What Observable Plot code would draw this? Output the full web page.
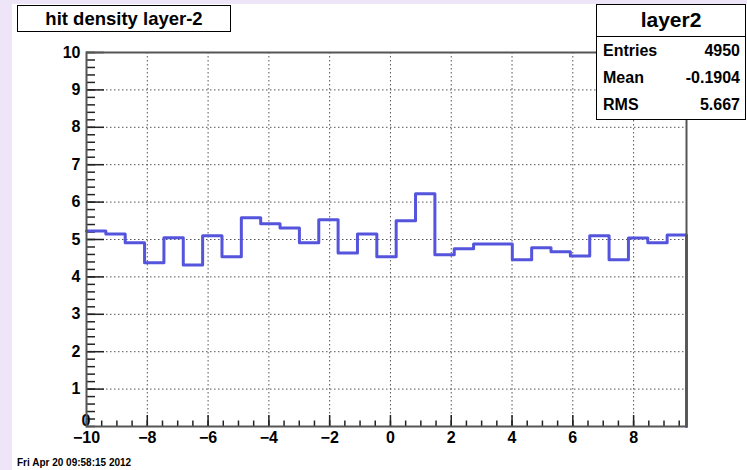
<!DOCTYPE html>
<html>
<head>
<meta charset="utf-8">
<script src="https://cdn.jsdelivr.net/npm/d3@7"></script>
<script src="https://cdn.jsdelivr.net/npm/@observablehq/plot@0.6"></script>
<style>
  html, body { margin: 0; padding: 0; }
  body { width: 747px; height: 470px; background: #efe5f9; overflow: hidden; font-family: "Liberation Sans", Arial, sans-serif; }
  #wrap { position: relative; width: 747px; height: 470px; }
  #chart { position: absolute; left: 12px; top: 4px; width: 735px; height: 466px; background: white; }
  #chart svg { display: block; }
  .box { position: absolute; background: white; border: 1px solid #000; box-sizing: border-box; font-weight: bold; color: #000; }
  #title { left: 17px; top: 5px; width: 214px; height: 27px; font-size: 18.5px; line-height: 25px; text-align: center; white-space: nowrap; }
  #stats { left: 596px; top: 4px; width: 150px; height: 116px; }
  #stats .hdr { height: 31px; border-bottom: 1px solid #000; font-size: 21px; line-height: 30px; text-align: center; }
  #stats .row { height: 27px; line-height: 28px; font-size: 16px; padding: 0 5px 0 6px; display: flex; justify-content: space-between; }
  #date { position: absolute; left: 17px; top: 457px; font-size: 10px; font-weight: bold; color: #000; white-space: nowrap; }
</style>
</head>
<body>
<div id="wrap">
  <div id="chart"></div>
  <div id="title" class="box"></div>
  <div id="stats" class="box"></div>
  <div id="date"></div>
</div>
<script>
// ---- data ----
const titleText = "hit density layer-2";
const histName = "layer2";
const statLabels = ["Entries", "Mean", "RMS"];
const statValues = ["4950", "-0.1904", "5.667"];
const dateText = "Fri Apr 20 09:58:15 2012";

const xMin = -10;
const xMax = 9.74;
const binContents = [5.23, 5.15, 4.91, 4.38, 5.05, 4.32, 5.10, 4.54, 5.58, 5.42,
                     5.31, 4.91, 5.53, 4.64, 5.15, 4.54, 5.50, 6.22, 4.59, 4.75,
                     4.88, 4.88, 4.46, 4.78, 4.67, 4.56, 5.10, 4.46, 5.04, 4.91, 5.12];
const xTickValues = [-10, -8, -6, -4, -2, 0, 2, 4, 6, 8];
const yTickValues = [1, 2, 3, 4, 5, 6, 7, 8, 9, 10];
const yMin = 0, yMax = 10;

// ---- derived ----
const nBins = binContents.length;
const binWidth = (xMax - xMin) / nBins;
const pts = binContents.map((v, i) => ({x: xMin + i * binWidth, y: v}));
pts.push({x: xMax, y: binContents[nBins - 1]});
pts.push({x: xMax, y: 0});

const xMinor = d3.range(xMin, xMax, 0.5);
const yMinor = d3.range(yMin, yMax + 1e-9, 0.2);

const tickColor = "#222";
const labelFont = 16;
const chart = Plot.plot({
  width: 735,
  height: 466,
  marginLeft: 74,
  marginRight: 61,
  marginTop: 48,
  marginBottom: 44,
  x: {domain: [xMin, xMax]},
  y: {domain: [yMin, yMax]},
  style: {background: "white", fontFamily: "'Liberation Sans', Arial, sans-serif", fontWeight: "bold", fontSize: "16px", color: "#000", overflow: "visible"},
  marks: [
    Plot.gridX(xTickValues, {stroke: "#555", strokeOpacity: 1, strokeDasharray: "1.5,2.5", strokeWidth: 1}),
    Plot.gridY(yTickValues, {stroke: "#555", strokeOpacity: 1, strokeDasharray: "1.5,2.5", strokeWidth: 1}),
    Plot.axisX(xMinor, {tickSize: -5.5, tickFormat: () => "", label: null, stroke: tickColor, strokeWidth: 1.5}),
    Plot.axisX(xTickValues, {tickSize: -11, tickFormat: () => "", label: null, stroke: tickColor, strokeWidth: 1.5}),
    Plot.axisX(xTickValues, {tickSize: 0, tickPadding: 5, label: null, fill: "#000", fontSize: labelFont, fontWeight: "bold"}),
    Plot.axisY(yMinor, {tickSize: -9, tickFormat: () => "", label: null, stroke: tickColor, strokeWidth: 1.5}),
    Plot.axisY(yTickValues, {tickSize: -18, tickFormat: () => "", label: null, stroke: tickColor, strokeWidth: 1.5}),
    Plot.axisY(yTickValues, {tickSize: 0, tickPadding: 6, label: null, fill: "#000", fontSize: labelFont, fontWeight: "bold"}),
    Plot.text([0], {x: xMin, y: yMin, text: d => String(d), textAnchor: "end", dx: 4, dy: -6, fill: "#000", fontSize: labelFont, fontWeight: "bold"}),
    Plot.line(pts, {x: "x", y: "y", curve: "step-after", stroke: "#5454dc", strokeWidth: 3}),
    Plot.frame({stroke: "#555", strokeWidth: 2})
  ]
});
document.getElementById("chart").appendChild(chart);

// ---- overlay texts ----
document.getElementById("title").textContent = titleText;
const stats = document.getElementById("stats");
const hdr = document.createElement("div");
hdr.className = "hdr";
hdr.textContent = histName;
stats.appendChild(hdr);
statLabels.forEach((lab, i) => {
  const row = document.createElement("div");
  row.className = "row";
  const a = document.createElement("span"); a.textContent = lab;
  const b = document.createElement("span"); b.textContent = statValues[i];
  row.appendChild(a); row.appendChild(b);
  stats.appendChild(row);
});
document.getElementById("date").textContent = dateText;
</script>
</body>
</html>
